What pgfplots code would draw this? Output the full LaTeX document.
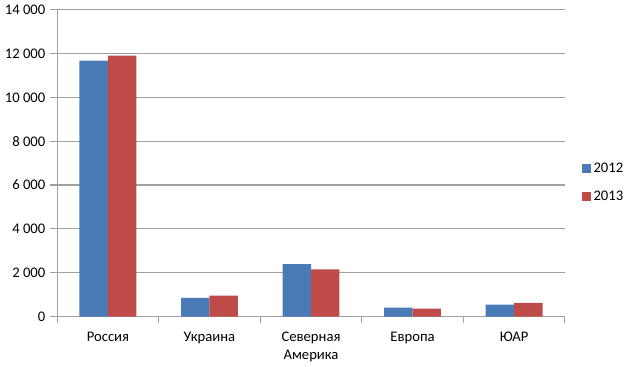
\documentclass[border=0pt]{standalone}
\usepackage{fontspec}
\setmainfont{Carlito}
\usepackage{pgfplots}
\pgfplotsset{compat=1.18}
\definecolor{cblue}{HTML}{4A7BB7}
\definecolor{cred}{HTML}{BE4B48}
\definecolor{gridc}{HTML}{A0A0A0}
\begin{document}
\fontsize{11}{13}\selectfont
\begin{tikzpicture}
\begin{axis}[
  scale only axis,
  width=381pt, height=230.25pt,
  ymin=0, ymax=14000,
  ytick={0,2000,...,14000},
  scaled y ticks=false,
  xmin=-0.5, xmax=4.5,
  xtick={0,1,2,3,4},
  xticklabels={Россия,Украина,{Северная\\Америка},Европа,ЮАР},
  xticklabel style={align=center, text=black, yshift=-3pt},
  minor xtick={-0.5,0.5,1.5,2.5,3.5,4.5},
  major x tick style={draw=none},
  minor x tick style={draw=gridc, line width=0.8pt},
  minor tick length=5pt,
  y tick style={draw=gridc, line width=0.8pt},
  major tick length=5pt,
  tick align=outside,
  xtick pos=bottom, ytick pos=left,
  axis x line*=bottom, axis y line*=left,
  axis line style={draw=gridc, line width=0.8pt, -},
  ymajorgrids,
  grid style={draw=gridc, line width=0.8pt},
  yticklabel style={text=black, /pgf/number format/fixed, /pgf/number format/1000 sep={\ }, /pgf/number format/assume math mode=true},
  legend style={draw=none, fill=none, at={(1.025,0.436)}, anchor=west,
    font=\fontsize{11}{13}\selectfont, row sep=8pt},
  legend cell align=left,
  legend image code/.code={\fill[#1] (0pt,-3.4pt) rectangle (6.8pt,3.4pt);},
  clip=false,
]
\addplot[ybar, bar width=0.28, bar shift=-0.14, fill=cblue, draw=none]
  coordinates {(0,11676) (1,850) (2,2395) (3,409) (4,545)};
\addlegendentry{2012}
\addplot[ybar, bar width=0.28, bar shift=0.14, fill=cred, draw=none]
  coordinates {(0,11904) (1,955) (2,2150) (3,364) (4,621)};
\addlegendentry{2013}
\path (rel axis cs:1.148,0.5) coordinate (rightedge);
\end{axis}
\path (rightedge) -- ++(0,0);
\end{tikzpicture}
\end{document}
